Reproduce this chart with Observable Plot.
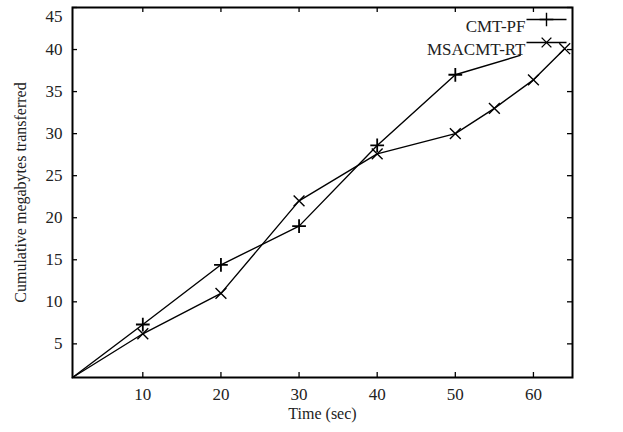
<!DOCTYPE html>
<html>
<head>
<meta charset="utf-8">
<script src="https://cdn.jsdelivr.net/npm/d3@7"></script>
<script src="https://cdn.jsdelivr.net/npm/@observablehq/plot@0.6"></script>
<style>
  html, body { margin: 0; padding: 0; background: #fff; }
  #chart svg { display: block; }
</style>
</head>
<body>
<div id="chart"></div>
<script>
const seriesNames = ["CMT-PF", "MSACMT-RT"];
const seriesSymbols = ["plus", "times"];

// CMT-PF (last point is where the visible line ends, no marker)
const cmtTime = [1, 10, 20, 30, 40, 50, 58.3];
const cmtMB   = [1, 7.3, 14.4, 19.0, 28.6, 37.0, 39.3];
const cmtMarked = [false, true, true, true, true, true, false];

// MSACMT-RT
const msaTime = [1, 10, 20, 30, 40, 50, 55, 60, 64];
const msaMB   = [1, 6.2, 11.0, 22.0, 27.6, 30.0, 33.0, 36.4, 40.1];
const msaMarked = [false, true, true, true, true, true, true, true, true];

const xTicks = [10, 20, 30, 40, 50, 60];
const yTicks = [5, 10, 15, 20, 25, 30, 35, 40, 45];
const yTopTick = 45; // drawn slightly lower to stay inside the picture
const xLabel = "Time (sec)";
const yLabel = "Cumulative megabytes transferred";

const cmt = cmtTime.map((t, i) => ({t, mb: cmtMB[i], marked: cmtMarked[i]}));
const msa = msaTime.map((t, i) => ({t, mb: msaMB[i], marked: msaMarked[i]}));

const W = 623, H = 432;
const mL = 72, mR = 51, mT = 7, mB = 55;
const fw = W - mL - mR, fh = H - mT - mB;
const tick = 5;

const legendLine = {draw(ctx) { ctx.moveTo(-20, 0); ctx.lineTo(20, 0); }};

const legendMarks = seriesNames.flatMap((name, i) => [
  Plot.text([name], {text: d => d, frameAnchor: "top-right", dx: -47, dy: 12 + 23 * i,
    textAnchor: "end", fontSize: 17, fill: "#222"}),
  Plot.dot([name], {frameAnchor: "top-right", dx: -26, dy: 12 + 23 * i,
    symbol: legendLine, stroke: "black", fill: "none", strokeWidth: 1.4}),
  Plot.dot([name], {frameAnchor: "top-right", dx: -26, dy: 12 + 23 * i,
    symbol: seriesSymbols[i], stroke: "black", strokeWidth: 1.4, r: 4.5})
]);

const chart = Plot.plot({
  width: W, height: H,
  marginLeft: mL, marginRight: mR, marginTop: mT, marginBottom: mB,
  style: {fontFamily: "'Liberation Serif', 'Times New Roman', serif", fontSize: "17px", background: "#fff", color: "#222"},
  x: {domain: [1, 65]},
  y: {domain: [1, 45]},
  marks: [
    Plot.axisX(xTicks, {tickSize: 0, tickPadding: 10, fontSize: 17, label: null}),
    Plot.axisY(yTicks.filter(v => v !== yTopTick), {tickSize: 0, tickPadding: 10, fontSize: 17, label: null}),
    Plot.text([yTopTick], {y: d => d, text: d => String(d), frameAnchor: "left", dx: -10, dy: 9,
      textAnchor: "end", fontSize: 17, fill: "#222"}),
    Plot.axisX({ticks: [], tickSize: 0, fontSize: 16, label: xLabel,
      labelAnchor: "center", labelOffset: 41, labelArrow: "none"}),
    Plot.axisY({ticks: [], tickSize: 0, fontSize: 16, label: yLabel,
      labelAnchor: "center", labelOffset: 58, labelArrow: "none"}),
    Plot.ruleX(xTicks, {x: d => d, insetTop: fh - tick, stroke: "black", strokeWidth: 1.3}),
    Plot.ruleX(xTicks, {x: d => d, insetBottom: fh - tick, stroke: "black", strokeWidth: 1.3}),
    Plot.ruleY(yTicks, {y: d => d, insetRight: fw - tick, stroke: "black", strokeWidth: 1.3}),
    Plot.ruleY(yTicks, {y: d => d, insetLeft: fw - tick, stroke: "black", strokeWidth: 1.3}),
    Plot.line(cmt, {x: "t", y: "mb", stroke: "black", strokeWidth: 1.4}),
    Plot.line(msa, {x: "t", y: "mb", stroke: "black", strokeWidth: 1.4}),
    Plot.dot(cmt.filter(d => d.marked), {x: "t", y: "mb", symbol: seriesSymbols[0], stroke: "black", strokeWidth: 1.8, r: 4.5}),
    Plot.dot(msa.filter(d => d.marked), {x: "t", y: "mb", symbol: seriesSymbols[1], stroke: "black", strokeWidth: 1.4, r: 5}),
    ...legendMarks,
    Plot.frame({stroke: "black", strokeWidth: 2})
  ]
});
document.getElementById("chart").appendChild(chart);
</script>
</body>
</html>
